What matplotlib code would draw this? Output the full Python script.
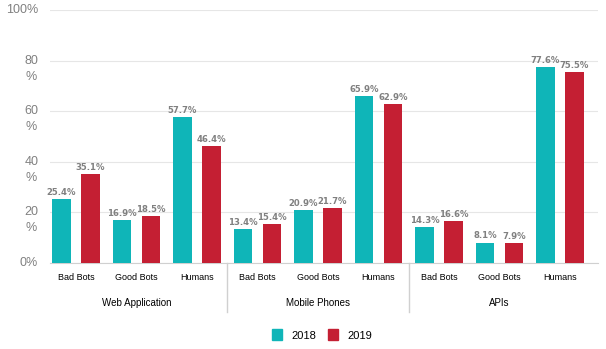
import matplotlib.pyplot as plt
from matplotlib.patches import Patch
import matplotlib.transforms as mtransforms
import numpy as np

plt.rcParams['font.family'] = ['Liberation Sans', 'DejaVu Sans']

# data
groups = ["Web Application", "Mobile Phones", "APIs"]
categories = ["Bad Bots", "Good Bots", "Humans"] * 3
v2018 = [25.4, 16.9, 57.7, 13.4, 20.9, 65.9, 14.3, 8.1, 77.6]
v2019 = [35.1, 18.5, 46.4, 15.4, 21.7, 62.9, 16.6, 7.9, 75.5]
yticks = [0, 20, 40, 60, 80, 100]
ytick_labels = ["0%", "20\n%", "40\n%", "60\n%", "80\n%", "100%"]

teal = "#0fb5b8"
red = "#c41f33"
gray = "#808080"

fig = plt.figure(figsize=(6.06, 3.49), dpi=100)
ax = fig.add_axes([50 / 606, 1 - 263 / 349, 548 / 606, 253 / 349])

x = np.arange(len(categories))
w = 0.31
off = 0.24
b1 = ax.bar(x - off, v2018, w, color=teal, zorder=3)
b2 = ax.bar(x + off, v2019, w, color=red, zorder=3)

for bars, vals in [(b1, v2018), (b2, v2019)]:
    for b, v in zip(bars, vals):
        ax.text(b.get_x() + b.get_width() / 2, v + 0.8, f"{v}%", ha="center", va="bottom",
                fontsize=6.1, color=gray, family="DejaVu Sans", fontweight="bold")

ax.set_xlim(-0.43, 8.63)
ax.set_ylim(0, 100)
ax.set_yticks(yticks)
ax.set_yticklabels(ytick_labels, fontsize=9, color=gray, linespacing=1.45)
ax.tick_params(axis="y", length=0, pad=8.5)
shift = mtransforms.ScaledTranslation(0, 6 / 100, fig.dpi_scale_trans)
for lab in ax.get_yticklabels():
    lab.set_va("top")
    lab.set_multialignment("center")
    lab.set_transform(lab.get_transform() + shift)
ax.grid(axis="y", color="#e6e6e6", linewidth=0.8, zorder=0)
for s in ["top", "right", "left"]:
    ax.spines[s].set_visible(False)
ax.spines["bottom"].set_color("#d0d0d0")

ax.set_xticks(x)
ax.set_xticklabels(categories, fontsize=6.5, color="black")
ax.tick_params(axis="x", length=0, pad=7)

# group separators and labels
for sep in [2.5, 5.5]:
    ax.plot([sep, sep], [0, -19.5], color="#d0d0d0", linewidth=1, clip_on=False)
for i, g in enumerate(groups):
    ax.text(i * 3 + 1, -16, g, ha="center", va="center", fontsize=7)

handles = [Patch(color=teal, label="2018"), Patch(color=red, label="2019")]
fig.legend(handles=handles, loc="center", bbox_to_anchor=(322 / 606, 1 - 335 / 349),
           ncol=2, frameon=False, fontsize=8, handlelength=0.9, handleheight=1.1,
           columnspacing=1.0, handletextpad=0.9)

fig.savefig("out.png", dpi=100)
